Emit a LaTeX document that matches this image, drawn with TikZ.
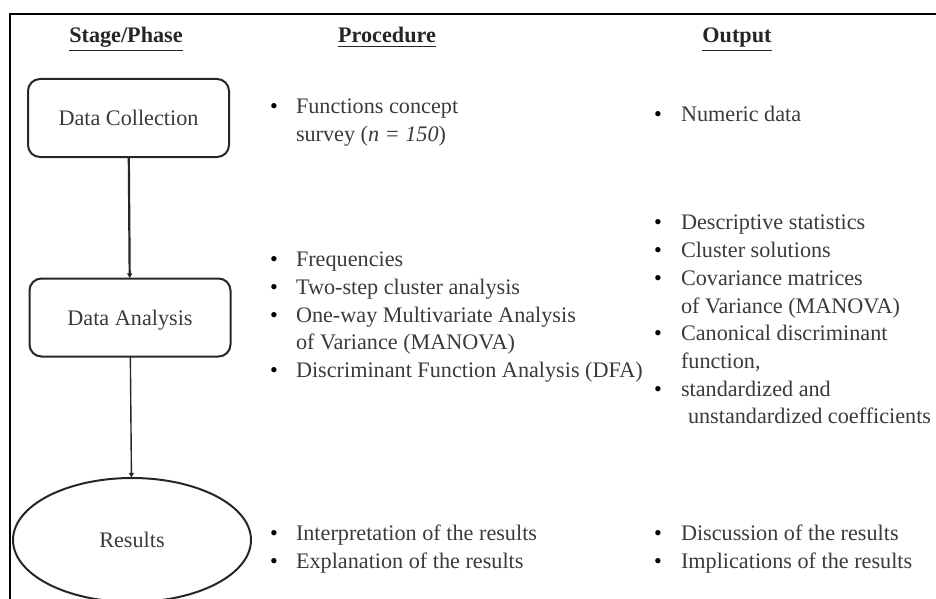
\documentclass[tikz,border=0pt]{standalone}
\usepackage{fontspec}
\setmainfont{Liberation Serif}
\usetikzlibrary{shapes.geometric,arrows.meta}
\definecolor{txt}{HTML}{3A3A3A}
\definecolor{ln}{HTML}{262626}
\begin{document}
\begin{tikzpicture}[x=0.5pt,y=-0.5pt,
  every node/.style={inner sep=0pt,outer sep=0pt,text=txt,font=\fontsize{11.1}{13.5}\selectfont},
  ln/.style={anchor=base west},
  bul/.style={anchor=base west,text=black},
  hdr/.style={anchor=base,text=black!85,font=\fontsize{11.1}{13.5}\selectfont\bfseries},
  stagebox/.style={draw=ln,line width=1pt,rounded corners=6pt,minimum width=100.5pt,minimum height=39pt,text height=7.5pt,text depth=0pt},
  resultell/.style={draw=ln,line width=1pt,ellipse,minimum width=119pt,minimum height=62pt,text height=7.5pt,text depth=0pt},
  conn/.style={draw=ln,-{Latex[length=2.6pt,width=3pt]}}
]
\clip (0,0) rectangle (936,599);
\draw[line width=1.3pt,black] (10,600) -- (10,14) -- (937,14);

% headers
\node[hdr] (h1) at (126,43) {\underline{Stage/Phase}};
\node[hdr] (h2) at (387,43) {\underline{Procedure}};
\node[hdr] (h3) at (737,43) {\underline{Output}};

% stages
\node[stagebox] (dc) at (128.5,118) {Data Collection};
\node[stagebox] (da) at (130,317.5) {Data Analysis};
\node[resultell] (rs) at (132,540) {Results};
\draw[conn,line width=1.1pt] (dc) -- (da);
\draw[conn,line width=0.7pt] (da) -- (rs);

% procedure column
\node[bul] (pb1) at (270,113) {•};
\node[ln] (p1a) at (296,113) {Functions concept};
\node[ln] (p1b) at (296,141) {survey (\textit{n = 150})};
\node[bul] (pb2) at (270,266) {•};
\node[ln] (p2) at (296,266) {Frequencies};
\node[bul] (pb3) at (270,294) {•};
\node[ln] (p3) at (296,294) {Two-step cluster analysis};
\node[bul] (pb4) at (270,322) {•};
\node[ln] (p4a) at (296,322) {One-way Multivariate Analysis};
\node[ln] (p4b) at (296,349) {of Variance (MANOVA)};
\node[bul] (pb5) at (270,377) {•};
\node[ln] (p5) at (296,377) {Discriminant Function Analysis (DFA)};
\node[bul] (pb6) at (270,540) {•};
\node[ln] (p6) at (296,540) {Interpretation of the results};
\node[bul] (pb7) at (270,568) {•};
\node[ln] (p7) at (296,568) {Explanation of the results};

% output column
\node[bul] (ob1) at (654,121) {•};
\node[ln] (o1) at (681,121) {Numeric data};
\node[bul] (ob2) at (654,229) {•};
\node[ln] (o2) at (681,229) {Descriptive statistics};
\node[bul] (ob3) at (654,257) {•};
\node[ln] (o3) at (681,257) {Cluster solutions};
\node[bul] (ob4) at (654,285) {•};
\node[ln] (o4a) at (681,285) {Covariance matrices};
\node[ln] (o4b) at (681,313) {of Variance (MANOVA)};
\node[bul] (ob5) at (654,340) {•};
\node[ln] (o5a) at (681,340) {Canonical discriminant};
\node[ln] (o5b) at (681,368) {function,};
\node[bul] (ob6) at (654,396) {•};
\node[ln] (o6a) at (681,396) {standardized and};
\node[ln] (o6b) at (688,423) {unstandardized coefficients};
\node[bul] (ob7) at (654,540) {•};
\node[ln] (o7) at (681,540) {Discussion of the results};
\node[bul] (ob8) at (654,568) {•};
\node[ln] (o8) at (681,568) {Implications of the results};
\end{tikzpicture}
\end{document}
